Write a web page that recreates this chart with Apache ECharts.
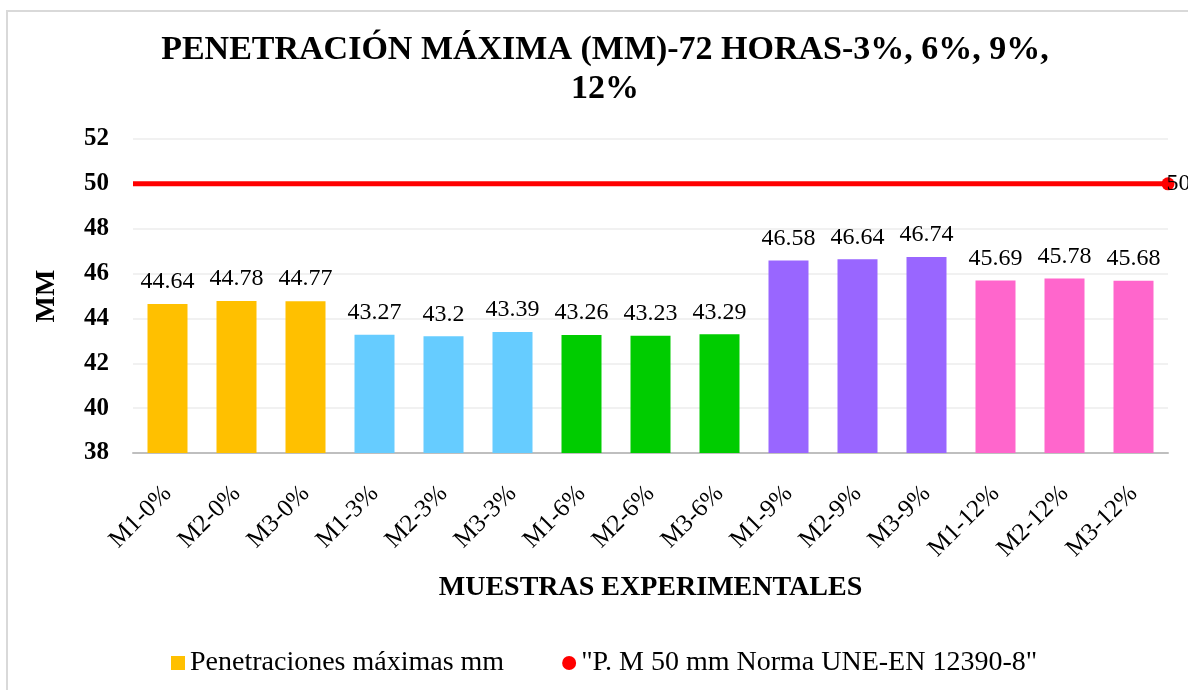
<!DOCTYPE html>
<html>
<head>
<meta charset="utf-8">
<script src="https://cdn.jsdelivr.net/npm/echarts@6/dist/echarts.min.js"></script>
<style>
  html, body { margin: 0; padding: 0; background: #ffffff; }
  #chart { width: 1188px; height: 690px; }
</style>
</head>
<body>
<div id="chart"></div>
<script>
// ---- data ----
const categories = ['M1-0%', 'M2-0%', 'M3-0%', 'M1-3%', 'M2-3%', 'M3-3%', 'M1-6%', 'M2-6%', 'M3-6%', 'M1-9%', 'M2-9%', 'M3-9%', 'M1-12%', 'M2-12%', 'M3-12%'];
const penetraciones = [44.64, 44.78, 44.77, 43.27, 43.2, 43.39, 43.26, 43.23, 43.29, 46.58, 46.64, 46.74, 45.69, 45.78, 45.68];
const normaLimit = [50, 50];
const groupOf = [0, 0, 0, 1, 1, 1, 2, 2, 2, 3, 3, 3, 4, 4, 4];
const yTicks = { min: 38, max: 52, interval: 2 };

// ---- styles ----
const groupColors = ['#FFC000', '#66CCFF', '#00CC00', '#9966FF', '#FF66CC'];
const FONT = "'Liberation Serif', 'Times New Roman', serif";

const chart = echarts.init(document.getElementById('chart'));
chart.setOption({
  animation: false,
  textStyle: { fontFamily: FONT },
  graphic: [{
    type: 'rect', shape: { x: 7, y: 11, width: 1200, height: 700 },
    style: { fill: 'none', stroke: '#d9d9d9', lineWidth: 2 }, silent: true
  }],
  title: {
    text: 'PENETRACIÓN MÁXIMA (MM)-72 HORAS-3%, 6%, 9%,\n12%',
    left: 600, top: 26, textAlign: 'center',
    textStyle: { fontFamily: FONT, fontSize: 34, fontWeight: 'bold', color: '#000', lineHeight: 39 }
  },
  legend: {
    left: 166, top: 644, itemWidth: 14, itemHeight: 14, itemGap: 58,
    textStyle: { fontFamily: FONT, fontSize: 28, color: '#000' },
    data: [
      { name: 'Penetraciones máximas mm', icon: 'rect', itemStyle: { color: groupColors[0] } },
      { name: '"P. M 50 mm Norma UNE-EN 12390-8"', icon: 'circle', itemStyle: { color: '#FF0000' } }
    ]
  },
  grid: { left: 133, right: 20, top: 139, bottom: 237 },
  xAxis: [{
    type: 'category', data: categories,
    name: 'MUESTRAS EXPERIMENTALES', nameLocation: 'middle', nameGap: 121,
    nameTextStyle: { fontFamily: FONT, fontSize: 28, fontWeight: 'bold', color: '#000' },
    axisLine: { lineStyle: { color: '#bfbfbf', width: 2 } },
    axisTick: { show: false },
    axisLabel: { rotate: 45, margin: 37, fontFamily: FONT, fontSize: 25, color: '#000', interval: 0 }
  }, {
    type: 'category', data: ['a', 'b'], boundaryGap: false, show: false
  }],
  yAxis: {
    type: 'value', min: yTicks.min, max: yTicks.max, interval: yTicks.interval,
    name: 'MM', nameLocation: 'middle', nameGap: 72, nameRotate: 90,
    nameTextStyle: { fontFamily: FONT, fontSize: 28, fontWeight: 'bold', color: '#000' },
    axisLine: { show: false }, axisTick: { show: false },
    axisLabel: { margin: 24, fontFamily: FONT, fontSize: 25, fontWeight: 'bold', color: '#000' },
    splitLine: { lineStyle: { color: '#ececec', width: 1.5 } }
  },
  series: [{
    name: 'Penetraciones máximas mm', type: 'bar', barWidth: 40,
    data: penetraciones.map((v, i) => ({ value: v, itemStyle: { color: groupColors[groupOf[i]] } })),
    label: { show: true, position: 'top', distance: 10, fontFamily: FONT, fontSize: 24, color: '#000' }
  }, {
    name: '"P. M 50 mm Norma UNE-EN 12390-8"', type: 'line', xAxisIndex: 1, z: 5,
    data: normaLimit.map((v, i) => ({
      value: v,
      symbolSize: i === normaLimit.length - 1 ? 13 : 0,
      label: { show: i === normaLimit.length - 1, position: 'right', distance: -8, fontFamily: FONT, fontSize: 24, color: '#000' }
    })),
    symbol: 'circle',
    itemStyle: { color: '#FF0000' },
    lineStyle: { color: '#FF0000', width: 5 }
  }]
});
</script>
</body>
</html>
